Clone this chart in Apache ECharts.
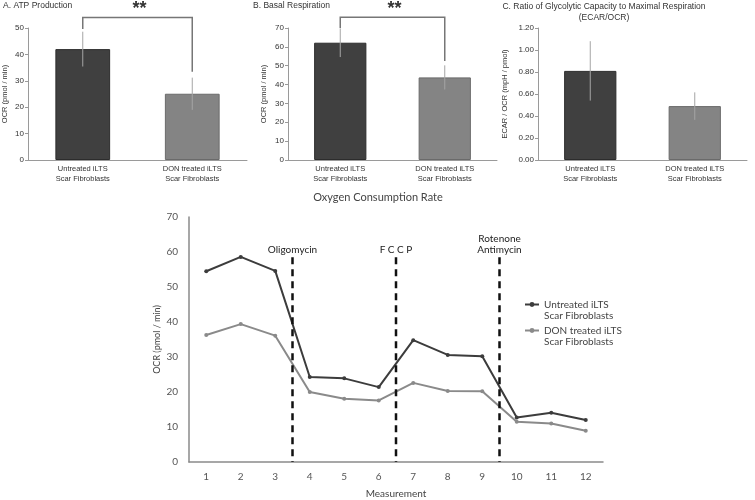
<!DOCTYPE html>
<html>
<head>
<meta charset="utf-8">
<script src="https://cdn.jsdelivr.net/npm/echarts@6/dist/echarts.min.js"></script>
<style>html,body{margin:0;padding:0;background:#fff;}#c{width:755px;height:500px;}</style>
</head>
<body>
<div id="c"></div>
<script>
// ---------- data ----------
const panelCats = ['Untreated iLTS\nScar Fibroblasts', 'DON treated iLTS\nScar Fibroblasts'];
const atpMeans = [42.0, 25.1];
const atpErr = [6.6, 6.1];
const basalMeans = [62.2, 43.8];
const basalErr = [7.6, 6.4];
const ratioMeans = [0.81, 0.49];
const ratioErr = [0.27, 0.125];
// significance brackets: [leftCat, rightCat, level, leftEnd, rightEnd]
const atpBracket = [[0, 1, 54.0, 49.6, 33.4]];
const basalBracket = [[0, 1, 75.7, 70.0, 52.5]];
const sigLabel = '**';

const measurements = ['1','2','3','4','5','6','7','8','9','10','11','12'];
const ocrUntreated = [54.5, 58.6, 54.6, 24.3, 23.9, 21.4, 34.8, 30.6, 30.2, 12.7, 14.1, 12.0];
const ocrDon = [36.3, 39.4, 36.1, 20.0, 18.1, 17.6, 22.6, 20.3, 20.2, 11.5, 11.0, 8.9];
const injectionPositions = [3.5, 6.5, 9.5];
const injectionTop = 58.5;
const injectionLabels = ['Oligomycin', 'F C C P', 'Rotenone\nAntimycin'];
const seriesNames = ['Untreated iLTS\nScar Fibroblasts', 'DON treated iLTS\nScar Fibroblasts'];

// ---------- styles ----------
const NARROW = '"Liberation Sans Narrow", "Arial Narrow", "Liberation Sans", Arial, sans-serif';
const LATO = 'Lato, "Open Sans", sans-serif';
const barColors = ['#404040', '#848484'];
const barBorders = ['#2c2c2c', '#6a6a6a'];

function barAxisX(grid) {
  return {
    gridIndex: grid, type: 'category', data: panelCats,
    axisLine: {lineStyle: {color: '#9a9a9a', width: 1}},
    axisTick: {show: false},
    axisLabel: {fontFamily: NARROW, fontSize: 7.5, color: '#333', lineHeight: 10, margin: 4}
  };
}
function barAxisY(grid, max, interval, nameGap, name, dec) {
  return {
    gridIndex: grid, type: 'value', min: 0, max: max, interval: interval,
    name: name, nameLocation: 'middle', nameGap: nameGap, nameMoveOverlap: false,
    nameTextStyle: {fontFamily: NARROW, fontSize: 7.5, color: '#333'},
    axisLine: {show: true, lineStyle: {color: '#9a9a9a', width: 1}},
    axisTick: {show: true, length: 3, lineStyle: {color: '#9a9a9a'}},
    splitLine: {show: false},
    axisLabel: {fontFamily: NARROW, fontSize: 8, color: '#333', margin: 4,
      formatter: v => dec ? v.toFixed(dec) : String(v)}
  };
}
function barSeries(idx, means) {
  return {
    type: 'bar', xAxisIndex: idx, yAxisIndex: idx, barWidth: '50%', silent: true,
    data: means.map((v, i) => ({value: v, itemStyle: {color: barColors[i], borderColor: barBorders[i], borderWidth: 1}}))
  };
}
function errSeries(idx, means, errs) {
  return {
    type: 'custom', xAxisIndex: idx, yAxisIndex: idx, silent: true, z: 5,
    data: means.map((m, i) => [i, m - errs[i], m + errs[i]]),
    renderItem: function (params, api) {
      const lo = api.coord([api.value(0), api.value(1)]);
      const hi = api.coord([api.value(0), api.value(2)]);
      return {type: 'line', shape: {x1: lo[0], y1: lo[1], x2: hi[0], y2: hi[1]},
        style: {stroke: '#a5a5a5', lineWidth: 1}};
    }
  };
}
function bracketSeries(idx, data) {
  return {
    type: 'custom', xAxisIndex: idx, yAxisIndex: idx, silent: true, z: 6, clip: false,
    data: data,
    renderItem: function (params, api) {
      const l = api.coord([api.value(0), api.value(2)]);
      const r = api.coord([api.value(1), api.value(2)]);
      const le = api.coord([api.value(0), api.value(3)]);
      const re = api.coord([api.value(1), api.value(4)]);
      return {type: 'group', children: [
        {type: 'polyline', shape: {points: [[le[0], le[1]], [l[0], l[1]], [r[0], r[1]], [re[0], re[1]]]},
          style: {stroke: '#767676', lineWidth: 1.5, fill: null}},
        {type: 'text', x: (l[0] + r[0]) / 2 + 2, y: l[1] + 1,
          style: {text: sigLabel, font: 'bold 18px "Liberation Sans", Arial, sans-serif',
            fill: '#333', align: 'center', verticalAlign: 'bottom'}}
      ]};
    }
  };
}

const titleStyle = {fontFamily: NARROW, fontSize: 8.5, fontWeight: 'normal', color: '#333'};
const option = {
  animation: false,
  backgroundColor: '#fff',
  title: [
    {text: 'A. ATP Production', left: 3, top: 1, padding: 0, textStyle: titleStyle},
    {text: 'B. Basal Respiration', left: 253, top: 1, padding: 0, textStyle: titleStyle},
    {text: 'C. Ratio of Glycolytic Capacity to Maximal Respiration\n(ECAR/OCR)', left: 604, top: 1, padding: 0, textAlign: 'center',
      textStyle: Object.assign({}, titleStyle, {lineHeight: 11, align: 'center'})},
    {text: 'Oxygen Consumption Rate', left: 378, top: 192, padding: 0, textAlign: 'center',
      textStyle: {fontFamily: LATO, fontSize: 11, fontWeight: 'normal', color: '#444'}}
  ],
  legend: {
    orient: 'vertical', left: 524, top: 288, padding: 0, itemGap: -7, itemWidth: 14, itemHeight: 6,
    data: seriesNames,
    formatter: name => '\n' + name,
    textStyle: {fontFamily: LATO, fontSize: 10, color: '#444', lineHeight: 11}
  },
  grid: [
    {left: 26, top: 28, width: 221, height: 132},
    {left: 288, top: 28, width: 209, height: 132},
    {left: 538, top: 28, width: 209, height: 132},
    {left: 189, top: 217, width: 414, height: 249}
  ],
  xAxis: [
    barAxisX(0), barAxisX(1), barAxisX(2),
    {gridIndex: 3, type: 'category', data: measurements, name: 'Measurement', nameLocation: 'middle', nameGap: 27,
      nameMoveOverlap: false,
      nameTextStyle: {fontFamily: LATO, fontSize: 10, color: '#444'},
      axisLine: {lineStyle: {color: '#8a8a8a', width: 1.5}}, axisTick: {show: false},
      axisLabel: {fontFamily: LATO, fontSize: 10, color: '#555', margin: 10}},
    {gridIndex: 3, type: 'value', min: 0.5, max: 12.5, show: false}
  ],
  yAxis: [
    barAxisY(0, 50, 10, 19, 'OCR (pmol / min)', 0),
    barAxisY(1, 70, 10, 20, 'OCR (pmol / min)', 0),
    barAxisY(2, 1.2, 0.2, 29, 'ECAR / OCR (mpH / pmol)', 2),
    {gridIndex: 3, type: 'value', min: 0, max: 70, interval: 10,
      name: 'OCR (pmol / min)', nameLocation: 'middle', nameGap: 27, nameMoveOverlap: false,
      nameTextStyle: {fontFamily: LATO, fontSize: 9, color: '#444'},
      axisLine: {show: true, lineStyle: {color: '#8a8a8a', width: 1.5}}, axisTick: {show: false},
      splitLine: {show: false},
      axisLabel: {fontFamily: LATO, fontSize: 10, color: '#555', margin: 11}}
  ],
  series: [
    barSeries(0, atpMeans), errSeries(0, atpMeans, atpErr), bracketSeries(0, atpBracket),
    barSeries(1, basalMeans), errSeries(1, basalMeans, basalErr), bracketSeries(1, basalBracket),
    barSeries(2, ratioMeans), errSeries(2, ratioMeans, ratioErr),
    {name: seriesNames[0], type: 'line', xAxisIndex: 3, yAxisIndex: 3, data: ocrUntreated,
      symbol: 'circle', symbolSize: 4, color: '#3c3c3c', lineStyle: {width: 2, color: '#3c3c3c'},
      itemStyle: {color: '#3c3c3c'}, z: 4},
    {name: seriesNames[1], type: 'line', xAxisIndex: 3, yAxisIndex: 3, data: ocrDon,
      symbol: 'circle', symbolSize: 4, color: '#8a8a8a', lineStyle: {width: 2, color: '#8a8a8a'},
      itemStyle: {color: '#8a8a8a'}, z: 3},
    {type: 'custom', xAxisIndex: 4, yAxisIndex: 3, silent: true, z: 5, clip: false,
      data: injectionPositions.map((p, i) => [p, injectionTop, i]),
      renderItem: function (params, api) {
        const top = api.coord([api.value(0), api.value(1)]);
        const bot = api.coord([api.value(0), 0]);
        return {type: 'group', children: [
          {type: 'line', shape: {x1: top[0], y1: top[1], x2: bot[0], y2: bot[1]},
            style: {stroke: '#111', lineWidth: 2.5, lineDash: [7, 5]}},
          {type: 'text', x: top[0], y: top[1] - 2,
            style: {text: injectionLabels[api.value(2)], font: '10px ' + LATO, fill: '#222',
              align: 'center', verticalAlign: 'bottom', lineHeight: 11}}
        ]};
      }}
  ]
};
const chart = echarts.init(document.getElementById('c'), null, {renderer: 'canvas'});
chart.setOption(option);
</script>
</body>
</html>
